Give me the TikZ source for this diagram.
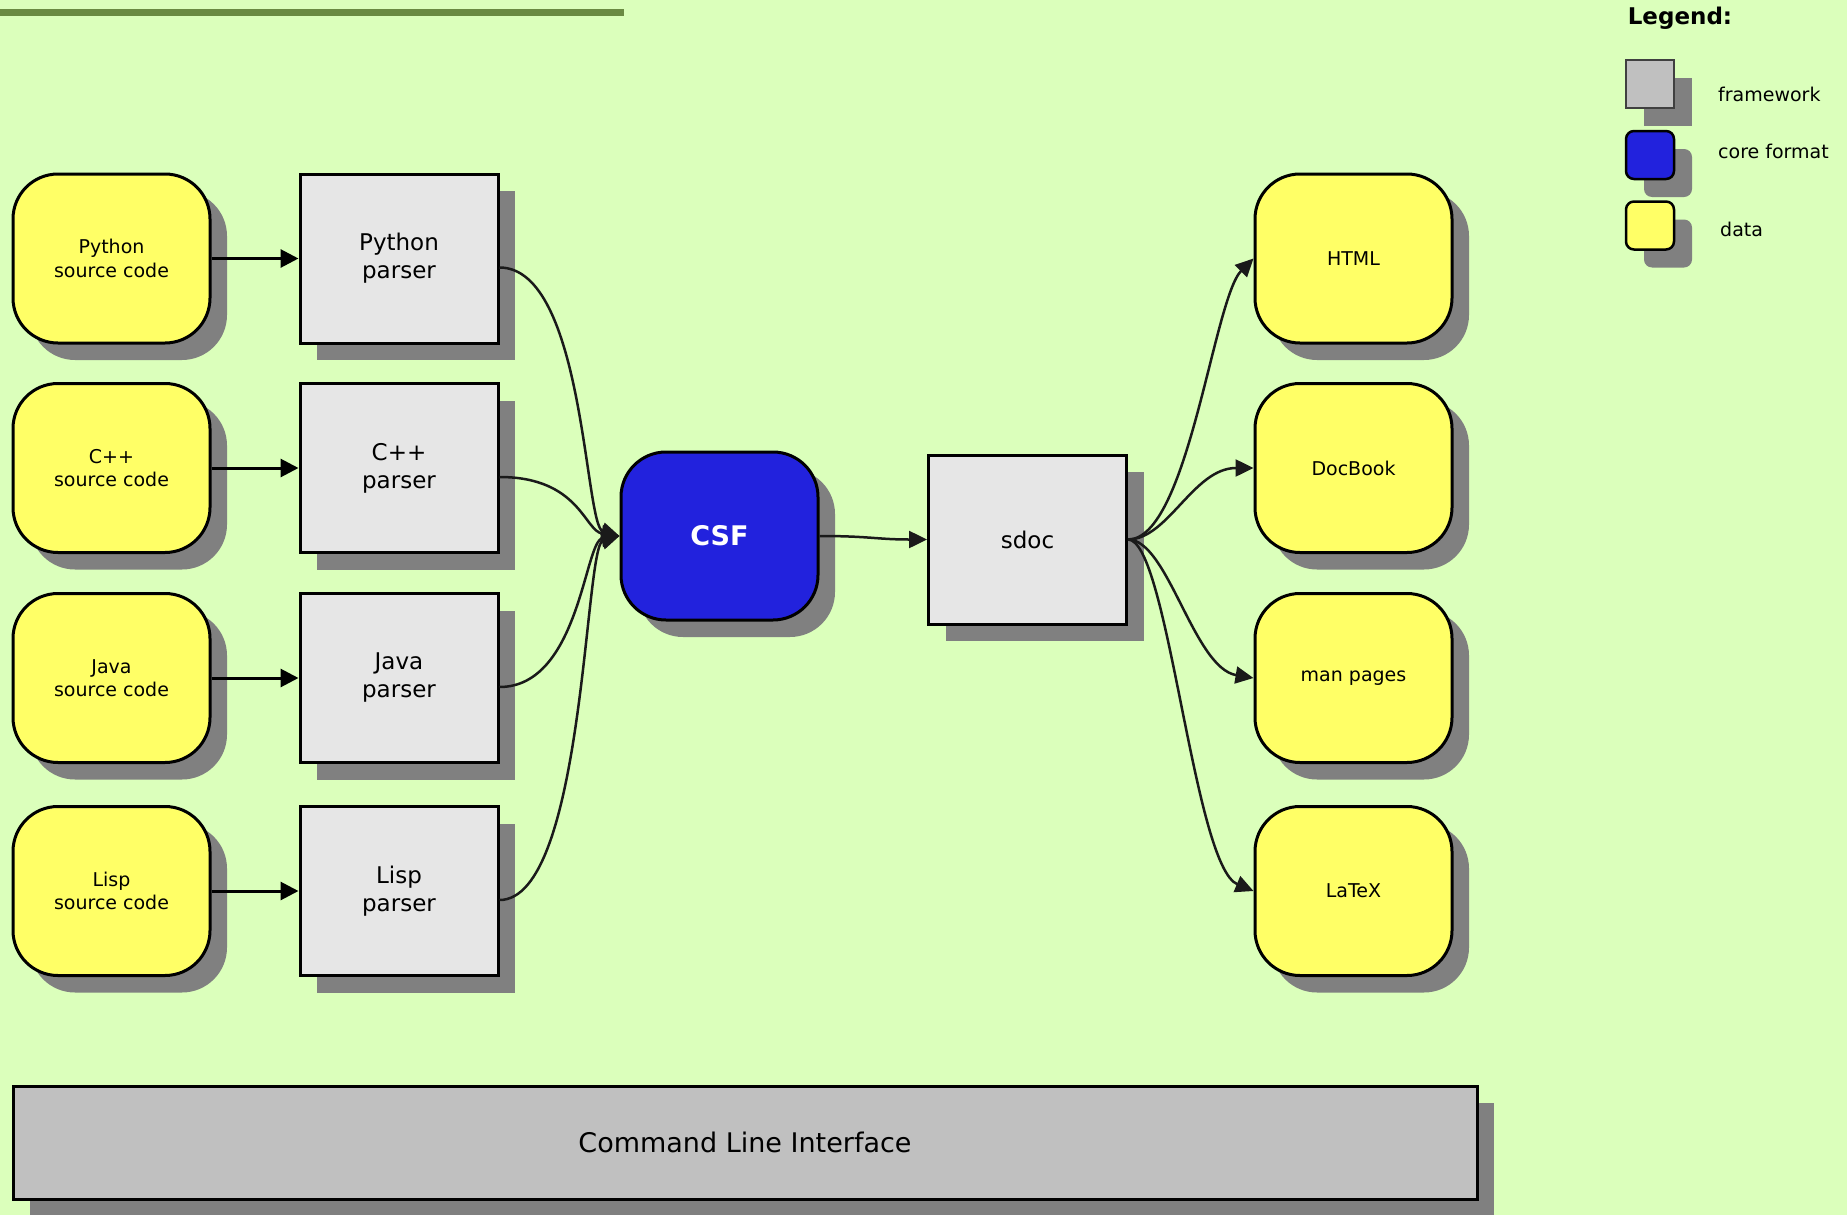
\documentclass[tikz,border=0pt]{standalone}
\usepackage{fontspec}
\setmainfont{DejaVu Sans}
\usetikzlibrary{arrows.meta,shadows}
\definecolor{bgc}{HTML}{DBFFBB}
\definecolor{barc}{HTML}{6A8A42}
\definecolor{datac}{HTML}{FFFF66}
\definecolor{corec}{HTML}{2222DD}
\definecolor{framec}{HTML}{E6E6E6}
\definecolor{legc}{HTML}{C0C0C0}
\definecolor{shc}{HTML}{808080}
\definecolor{linec}{HTML}{1A1A1A}
\tikzset{
  shad/.style={drop shadow={shadow xshift=17pt,shadow yshift=-17pt,fill=shc,opacity=1}},
  databox/.style={shad,draw=black,line width=3pt,fill=datac,rounded corners=45pt,
    minimum width=197pt,minimum height=169pt,align=center,inner sep=0pt,
    font=\fontsize{19}{23.5}\selectfont},
  parserbox/.style={shad,draw=black,line width=3pt,fill=framec,
    minimum width=198pt,minimum height=169pt,align=center,inner sep=0pt,
    font=\fontsize{23}{28}\selectfont},
  corebox/.style={shad,draw=black,line width=3pt,fill=corec,rounded corners=45pt,
    minimum width=197pt,minimum height=168pt,align=center,inner sep=0pt,text=white,
    font=\fontsize{27}{32}\selectfont\bfseries},
  clibox/.style={shad,draw=black,line width=3pt,fill=legc,
    minimum width=1464pt,minimum height=113pt,inner sep=0pt,
    font=\fontsize{27}{32}\selectfont},
  legshad/.style={drop shadow={shadow xshift=18pt,shadow yshift=-18pt,fill=shc,opacity=1}},
  legframe/.style={legshad,draw=black!75,line width=1.5pt,fill=legc,minimum size=48pt,inner sep=0pt},
  legcore/.style={legshad,draw=black,line width=2.5pt,fill=corec,rounded corners=8pt,minimum size=48pt,inner sep=0pt},
  legdata/.style={legshad,draw=black,line width=2.5pt,fill=datac,rounded corners=8pt,minimum size=48pt,inner sep=0pt},
  legtext/.style={anchor=west,inner sep=0pt,font=\fontsize{19}{23}\selectfont},
  conn/.style={draw=linec,line width=2.5pt,-{Triangle[length=18pt,width=17pt]}},
  sconn/.style={draw=black,line width=3pt,-{Triangle[length=18pt,width=18pt]}},
}
\begin{document}
\begin{tikzpicture}[x=1pt,y=-1pt]
\fill[bgc] (0,0) rectangle (1847,1215);
\useasboundingbox (0,0) rectangle (1847,1215);
\fill[barc] (0,9.5) rectangle (624,16.5);

% legend
\node[inner sep=0pt,font=\fontsize{23}{27}\selectfont\bfseries] (legt) at (1680,18.5) {Legend:};
\node[legframe] (lf) at (1650,84) {};
\node[legcore] (lc) at (1650,155) {};
\node[legdata] (ld) at (1650,225.5) {};
\node[legtext] (lft) at (1718,94) {framework};
\node[legtext] (lct) at (1718,151) {core format};
\node[legtext] (ldt) at (1720,229) {data};

% sources
\node[databox] (ps) at (111.5,258.5) {Python\\source code};
\node[databox] (cs) at (111.5,468) {C++\\source code};
\node[databox] (js) at (111.5,678) {Java\\source code};
\node[databox] (ls) at (111.5,891) {Lisp\\source code};

% parsers
\node[parserbox] (pp) at (399,258.5) {Python\\parser};
\node[parserbox] (cp) at (399,468) {C++\\parser};
\node[parserbox] (jp) at (399,678) {Java\\parser};
\node[parserbox] (lp) at (399,891) {Lisp\\parser};

% core
\node[corebox] (csf) at (719.5,536) {CSF};
\node[parserbox] (sdoc) at (1027.5,539.5) {sdoc};

% outputs
\node[databox] (html) at (1353.5,258.5) {HTML};
\node[databox] (dbk) at (1353.5,468) {DocBook};
\node[databox] (man) at (1353.5,678) {man pages};
\node[databox] (ltx) at (1353.5,891) {LaTeX};

% CLI
\node[clibox] (cli) at (745,1142.5) {Command Line Interface};

% connectors
\draw[sconn] (ps.east) -- (pp.west);
\draw[sconn] (cs.east) -- (cp.west);
\draw[sconn] (js.east) -- (jp.west);
\draw[sconn] (ls.east) -- (lp.west);

\draw[conn] ([yshift=-9pt]pp.east) .. controls +(85,0) and +(-35,-10) .. (csf.west);
\draw[conn] ([yshift=-9pt]cp.east) .. controls +(80,0) and +(-35,-5) .. (csf.west);
\draw[conn] ([yshift=-9pt]jp.east) .. controls +(80,0) and +(-35,5) .. (csf.west);
\draw[conn] ([yshift=-9pt]lp.east) .. controls +(85,0) and +(-35,10) .. (csf.west);

\draw[conn] (csf.east) .. controls +(50,0) and +(-50,0) .. (sdoc.west);

\draw[conn] (sdoc.east) .. controls +(60,0) and +(-40,40) .. (html.west);
\draw[conn] (sdoc.east) .. controls +(40,0) and +(-60,0) .. (dbk.west);
\draw[conn] (sdoc.east) .. controls +(40,0) and +(-60,-10) .. (man.west);
\draw[conn] (sdoc.east) .. controls +(40,0) and +(-60,-25) .. (ltx.west);
\end{tikzpicture}
\end{document}
